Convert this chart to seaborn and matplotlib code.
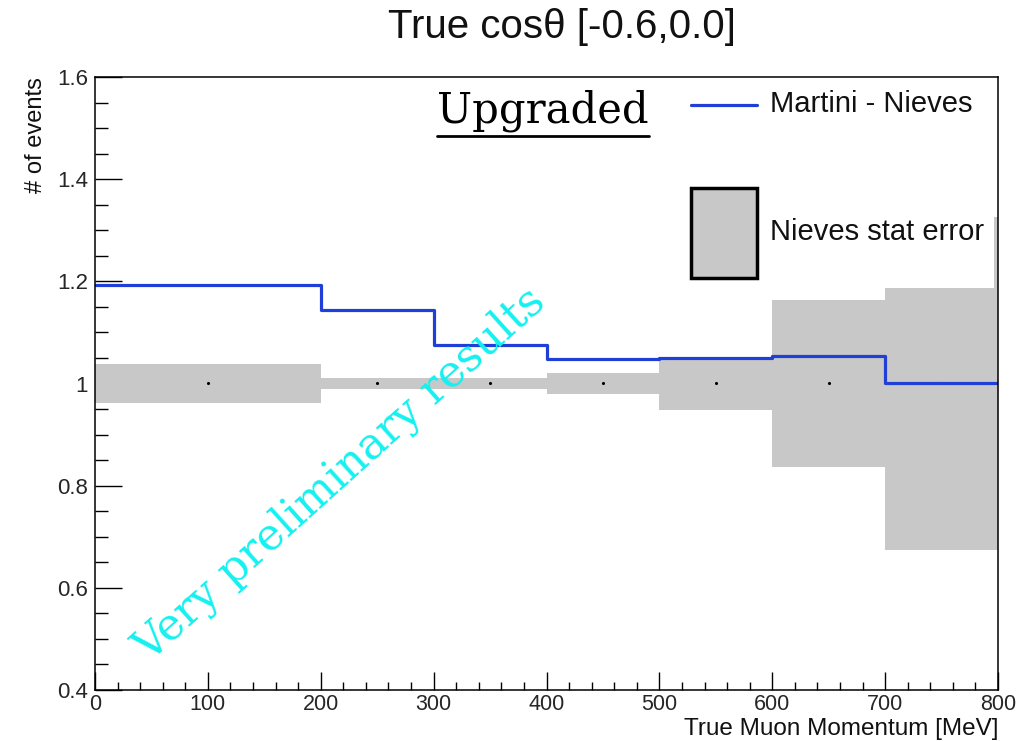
import numpy as np
import pandas as pd
import matplotlib
matplotlib.use("Agg")
import matplotlib.pyplot as plt
import seaborn as sns
from matplotlib.lines import Line2D
from matplotlib.patches import Patch
from matplotlib.legend_handler import HandlerLine2D
from matplotlib.ticker import MultipleLocator, FuncFormatter

# ---------------- data ----------------
bin_edges = [0, 200, 300, 400, 500, 600, 700, 800]
martini_minus_nieves = [1.193, 1.144, 1.075, 1.047, 1.050, 1.053, 1.000]
nieves_value = [1.0, 1.0, 1.0, 1.0, 1.0, 1.0, 1.0]
nieves_stat_err = [0.038, 0.011, 0.011, 0.020, 0.052, 0.163, 0.325]
y_ticks = [0.4, 0.6, 0.8, 1.0, 1.2, 1.4, 1.6]
x_ticks = [0, 100, 200, 300, 400, 500, 600, 700, 800]

title = "True cosθ [-0.6,0.0]"
x_label = "True Muon Momentum [MeV]"
y_label = "# of events"
line_label = "Martini - Nieves"
box_label = "Nieves stat error"

# ---------------- derived tables ----------------
lefts = np.array(bin_edges[:-1], dtype=float)
widths = np.diff(bin_edges).astype(float)
centers = lefts + widths / 2
err = np.array(nieves_stat_err)
val = np.array(nieves_value)
step_df = pd.DataFrame({"x": bin_edges,
                        "y": martini_minus_nieves + [martini_minus_nieves[-1]]})
pts_df = pd.DataFrame({"x": centers, "y": val})

BLUE = "#1f3fd6"
GRAY = "#c8c8c8"
CYAN = "#14f0f0"

sns.set_theme(style="white")
plt.rcParams['font.family'] = ['Liberation Sans', 'DejaVu Sans']

W, H = 1019, 741
fig = plt.figure(figsize=(W / 100, H / 100), dpi=100)
fig.patch.set_facecolor("white")
ax = fig.add_axes([95 / W, 1 - 690 / H, 903 / W, 613 / H])
ax.set_facecolor("white")

# stat error boxes
ax.bar(lefts, 2 * err, width=widths, bottom=val - err, align="edge",
       color=GRAY, linewidth=0, zorder=1)

# points at bin centres
sns.scatterplot(data=pts_df, x="x", y="y", s=5, color="black", linewidth=0,
                ax=ax, zorder=2, legend=False)

# step line
sns.lineplot(data=step_df, x="x", y="y", drawstyle="steps-post", color=BLUE,
             linewidth=2.3, ax=ax, zorder=3, legend=False)

ax.set_xlim(bin_edges[0], bin_edges[-1])
ax.set_ylim(y_ticks[0], y_ticks[-1])
ax.set_xticks(x_ticks)
ax.set_yticks(y_ticks)
ax.xaxis.set_minor_locator(MultipleLocator(20))
ax.yaxis.set_minor_locator(MultipleLocator(0.05))
ax.yaxis.set_major_formatter(FuncFormatter(lambda v, p: f"{v:g}"))

ax.tick_params(axis="both", which="both", direction="in", bottom=True, left=True,
               top=False, right=False, color="black", width=1.0)
ax.tick_params(axis="x", which="major", length=13, labelsize=15.5, pad=3)
ax.tick_params(axis="x", which="minor", length=6)
ax.tick_params(axis="y", which="major", length=19.5, labelsize=16, pad=5)
ax.tick_params(axis="y", which="minor", length=9.5)
for s in ax.spines.values():
    s.set_visible(True)
    s.set_color("black")
    s.set_linewidth(1.1)
    s.set_zorder(10)

ax.set_xlabel(x_label, loc="right", fontsize=17.5, labelpad=2, color="#111111")
ax.set_ylabel(y_label, loc="top", fontsize=17, labelpad=7, color="#111111")
ax.grid(False)


class CenteredLineHandler(HandlerLine2D):
    def create_artists(self, legend, orig_handle, xdescent, ydescent, width,
                       height, fontsize, trans):
        arts = super().create_artists(legend, orig_handle, xdescent, ydescent,
                                      width, height, fontsize, trans)
        for a in arts:
            a.set_ydata(np.asarray(a.get_ydata()) - ydescent / 2)
        return arts


# legend
fs = 21
line_handle = Line2D([], [], color=BLUE, linewidth=2.3)
box_handle = Patch(facecolor=GRAY, edgecolor="black", linewidth=2.5)
leg = ax.legend([line_handle, box_handle], [line_label, box_label],
                handler_map={line_handle: CenteredLineHandler()},
                loc="upper right",
                bbox_to_anchor=(0.9956, (690 - 50) / 613), borderaxespad=0,
                fontsize=fs, handlelength=2.26, handleheight=4.37,
                labelspacing=1.30, borderpad=0.34, handletextpad=0.45,
                frameon=True, fancybox=False, framealpha=1.0,
                facecolor="white", edgecolor="none")
leg.set_zorder(5)
for t in leg.get_texts():
    t.set_color("#111111")

# title
fig.text(562 / W, 1 - 27 / H, title, ha="center", va="center", fontsize=29,
         color="#111111")

# "Upgraded" underlined
up = ax.text(0.496, 0.945, "Upgraded", transform=ax.transAxes, ha="center",
             va="center", fontsize=30, family="DejaVu Serif", color="black",
             zorder=6)

# watermark
ax.text(0.271, 0.351, "Very preliminary results", transform=ax.transAxes,
        ha="center", va="center", rotation=42, fontsize=31.5,
        family="DejaVu Serif", color=CYAN, zorder=12)

fig.canvas.draw()
bb = up.get_window_extent()
yline = bb.y0 - 4
fig.add_artist(Line2D([bb.x0 / W, bb.x1 / W], [yline / H, yline / H],
                      transform=fig.transFigure, color="black", linewidth=2.0))

fig.savefig("out.png", dpi=100, facecolor="white")
